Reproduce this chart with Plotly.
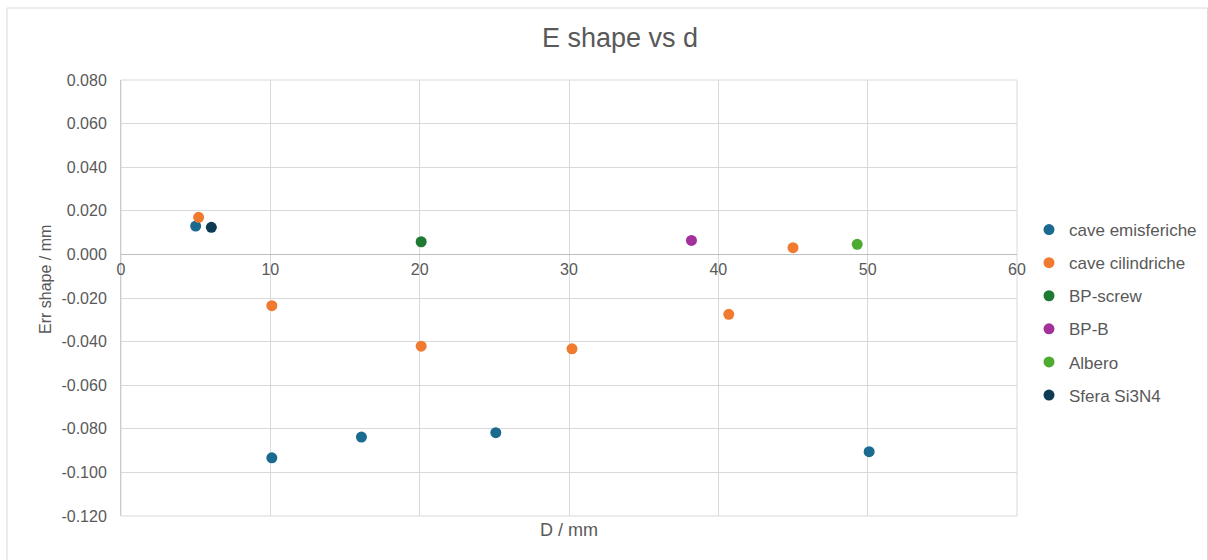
import plotly.graph_objects as go

# Measurements: D / mm against shape error / mm, one series per part type
emisferiche_d = [5.0, 10.1, 16.1, 25.1, 50.1]
emisferiche_err = [0.0130, -0.0933, -0.0838, -0.0818, -0.0905]

cilindriche_d = [5.2, 10.1, 20.1, 30.2, 40.7, 45.0]
cilindriche_err = [0.0170, -0.0235, -0.0421, -0.0433, -0.0275, 0.0031]

bp_screw_d = [20.1]
bp_screw_err = [0.0058]

bp_b_d = [38.2]
bp_b_err = [0.0064]

albero_d = [49.3]
albero_err = [0.0046]

sfera_d = [6.05]
sfera_err = [0.0124]

y_ticks = [0.08, 0.06, 0.04, 0.02, 0.0, -0.02, -0.04, -0.06, -0.08, -0.10, -0.12]
y_tick_labels = ["0.080", "0.060", "0.040", "0.020", "0.000", "-0.020", "-0.040",
                 "-0.060", "-0.080", "-0.100", "-0.120"]
x_ticks = [0, 10, 20, 30, 40, 50, 60]

series = [
    ("cave emisferiche", emisferiche_d, emisferiche_err, "#1b6a8f"),
    ("cave cilindriche", cilindriche_d, cilindriche_err, "#f07a30"),
    ("BP-screw", bp_screw_d, bp_screw_err, "#1e7a32"),
    ("BP-B", bp_b_d, bp_b_err, "#a3309b"),
    ("Albero", albero_d, albero_err, "#4dab32"),
    ("Sfera Si3N4", sfera_d, sfera_err, "#0e3b54"),
]

FONT = "Liberation Sans, Arial, Helvetica, sans-serif"
TEXT = "#595959"
GRID = "#d9d9d9"

# plot area in pixels
L, R, T, B = 121, 1017, 80, 516
W, H = R - L, B - T


def px_x(p):
    return (p - L) / W


def px_y(p):
    return (B - p) / H


fig = go.Figure()
for i, (name, xs, ys, color) in enumerate(series):
    fig.add_trace(go.Scatter(
        x=xs, y=ys, mode="markers", name=name, legendgroup=f"g{i}",
        marker=dict(size=11, color=color, line=dict(width=0)),
    ))

Y_MIN, Y_MAX = -0.12, 0.08
# x axis drawn through y = 0
zero_pos = (0 - Y_MIN) / (Y_MAX - Y_MIN)

fig.update_layout(
    width=1208, height=560,
    margin=dict(l=L, r=1208 - R, t=T, b=560 - B, autoexpand=False),
    paper_bgcolor="white", plot_bgcolor="white",
    font=dict(family=FONT, color=TEXT, size=16),
    title=dict(text="E shape vs d", x=620 / 1208, xanchor="center",
               y=1 - 38 / 560, yanchor="middle", yref="container",
               font=dict(size=27, color=TEXT, family=FONT)),
    xaxis=dict(range=[0, 60], tickvals=x_ticks, showgrid=True, gridcolor=GRID,
               gridwidth=1, zeroline=False, showline=True, linecolor="#bfbfbf",
               linewidth=1, anchor="free", position=zero_pos, ticks="",
               tickfont=dict(size=16, color=TEXT)),
    yaxis=dict(range=[Y_MIN, Y_MAX], tickvals=y_ticks, ticktext=y_tick_labels,
               showgrid=True, gridcolor=GRID, gridwidth=1, zeroline=False,
               showline=True, linecolor="#cccccc", linewidth=1, ticks="",
               ticklabelstandoff=10, tickfont=dict(size=16, color=TEXT)),
    legend=dict(x=px_x(1029), xanchor="left", y=px_y(212),
                yanchor="top", tracegroupgap=8, font=dict(size=17, color=TEXT),
                bgcolor="rgba(0,0,0,0)"),
    showlegend=True,
)

# plot area border (grid lines at the range edges)
fig.add_shape(type="rect", xref="paper", yref="paper", x0=0, x1=1, y0=0, y1=1,
              line=dict(color=GRID, width=1), fillcolor="rgba(0,0,0,0)",
              layer="below")

# axis titles
fig.add_annotation(text="D / mm", xref="paper", yref="paper", x=0.5,
                   y=px_y(530), xanchor="center", yanchor="middle",
                   showarrow=False, font=dict(size=18, color=TEXT, family=FONT))
fig.add_annotation(text="Err shape / mm", xref="paper", yref="paper",
                   x=px_x(45), y=px_y(280), xanchor="center", yanchor="middle",
                   textangle=-90, showarrow=False,
                   font=dict(size=16, color=TEXT, family=FONT))

# light frame around the chart
fig.add_shape(type="rect", xref="paper", yref="paper",
              x0=px_x(7), x1=px_x(1207.5), y0=px_y(570), y1=px_y(8),
              line=dict(color="#d9d9d9", width=1), fillcolor="rgba(0,0,0,0)",
              layer="below")

fig.write_html("out.html")
